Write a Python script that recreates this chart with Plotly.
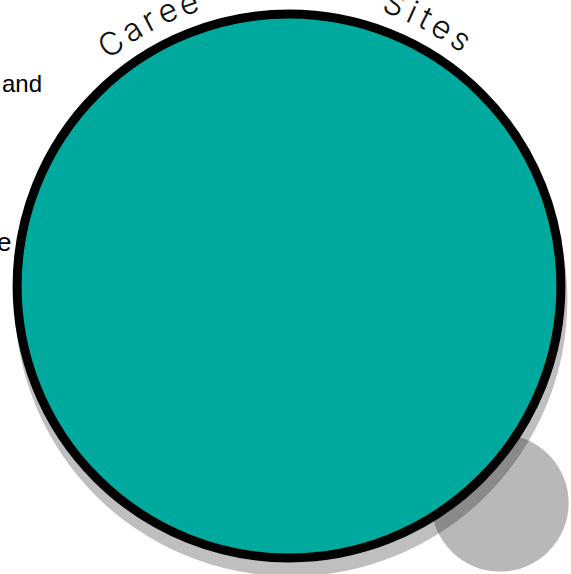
import math
import plotly.graph_objects as go

# ---- data ----
node_names = ["Career Agency Sites", "Other"]
node_values = [157, 10]
pack_x = [289, 500]
pack_y = [286, 503]
node_fill = ["#00a99d", "#b8b8b8"]
node_outline = [9, 0]
side_labels = ["and", "e"]
side_label_x = [44, 13]
side_label_y = [83, 242]
side_label_size = [24, 26]

W, H = 571, 574
K = 21.7  # radius scale: r = K * sqrt(value)
radii = [K * math.sqrt(v) for v in node_values]

fig = go.Figure()
fig.add_trace(go.Scatter(x=pack_x, y=pack_y, mode="markers",
                         marker=dict(size=1, opacity=0), text=node_names,
                         hoverinfo="text", showlegend=False))

shapes = []
# gray (small) node first
cx, cy, r = pack_x[1], pack_y[1], radii[1]
shapes.append(dict(type="circle", xref="x", yref="y", x0=cx - r, x1=cx + r,
                   y0=cy - r, y1=cy + r, fillcolor=node_fill[1],
                   line=dict(width=0), layer="below"))
# drop shadow of the big node
cx, cy, r = pack_x[0], pack_y[0], radii[0]
ro = r + node_outline[0] / 2
dx, dy = 2, 14
shapes.append(dict(type="circle", xref="x", yref="y", x0=cx - ro + dx, x1=cx + ro + dx,
                   y0=cy - ro + dy, y1=cy + ro + dy, fillcolor="rgba(0,0,0,0.25)",
                   line=dict(width=0), layer="below"))
# big node
shapes.append(dict(type="circle", xref="x", yref="y", x0=cx - r, x1=cx + r,
                   y0=cy - r, y1=cy + r, fillcolor=node_fill[0],
                   line=dict(width=node_outline[0], color="black"), layer="below"))

annotations = []
# curved label along top of the big circle
label = node_names[0]
fs = 32
widths = {"C": .65, "a": .54, "r": .34, "e": .53, " ": .25, "A": .65, "g": .56,
          "n": .55, "c": .52, "y": .48, "S": .59, "i": .24, "t": .33, "s": .51}
ls = 6
rt = 301
rot_offset = -0.6  # degrees
pos = 0.0
centers = []
for ch in label:
    w = widths.get(ch, .5) * fs
    centers.append(pos + w / 2)
    pos += w + ls
span_mid = (centers[0] + centers[-1]) / 2
for ch, c in zip(label, centers):
    if ch == " ":
        continue
    theta = (c - span_mid) / rt + math.radians(rot_offset)
    annotations.append(dict(x=cx + rt * math.sin(theta), y=cy - rt * math.cos(theta),
                            xref="x", yref="y", text=ch, showarrow=False,
                            textangle=math.degrees(theta),
                            font=dict(family="Inter", size=fs, color="#111", weight=300),
                            xanchor="center", yanchor="middle"))

for t, x, y, s in zip(side_labels, side_label_x, side_label_y, side_label_size):
    annotations.append(dict(x=x, y=y, xref="x", yref="y", text=t, showarrow=False,
                            xanchor="right", yanchor="middle",
                            font=dict(family="Liberation Sans", size=s, color="black")))

fig.update_layout(
    width=W, height=H, margin=dict(l=0, r=0, t=0, b=0),
    paper_bgcolor="white", plot_bgcolor="white",
    xaxis=dict(range=[0, W], visible=False, fixedrange=True),
    yaxis=dict(range=[H, 0], visible=False, fixedrange=True),
    shapes=shapes, annotations=annotations, showlegend=False,
)
fig.write_html("out.html", config={"displayModeBar": False},
               post_script="document.body.style.margin='0';document.body.style.overflow='hidden';")
